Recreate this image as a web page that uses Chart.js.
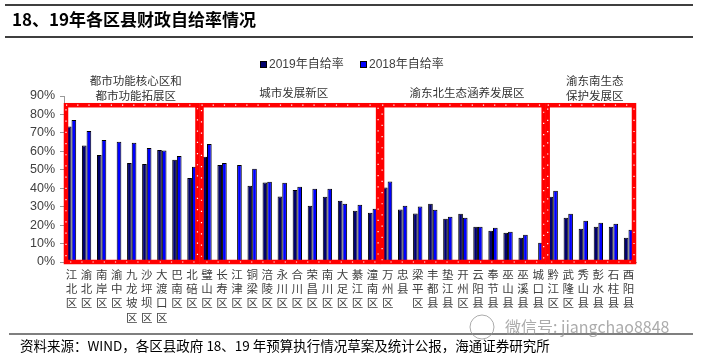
<!DOCTYPE html>
<html>
<head>
<meta charset="utf-8">
<script src="https://cdn.jsdelivr.net/npm/chart.js@4"></script>
<style>
  html, body { margin: 0; padding: 0; background: #fff; }
  #wrap { position: relative; width: 704px; height: 362px; }
</style>
</head>
<body>
<div id="wrap"><canvas id="myChart" width="704" height="362"></canvas></div>
<script>
const ctx = document.querySelector("#myChart");

const quxian = ['江北区', '渝北区', '南岸区', '渝中区', '九龙坡区', '沙坪坝区', '大渡口区', '巴南区', '北碚区',
    '璧山区', '长寿区', '江津区', '铜梁区', '涪陵区', '永川区', '合川区', '荣昌区', '南川区', '大足区', '綦江区', '潼南区',
    '万州区', '忠县', '梁平区', '丰都县', '垫江县', '开州区', '云阳县', '奉节县', '巫山县', '巫溪县', '城口县',
    '黔江区', '武隆区', '秀山县', '彭水县', '石柱县', '酉阳县'];

const ziji2019 = [73.4, 63.1, 58.0, null, 53.7, 53.2, 60.7, 55.5, 45.6,
    57.1, 52.6, null, 41.3, 43.1, 35.5, 39.1, 30.5, 35.4, 33.2, 27.8, 26.7,
    40.4, 28.5, 26.3, 31.6, 23.5, 26.1, 19.1, 17.0, 15.9, 13.2, null,
    35.4, 24.0, 18.0, 19.1, 19.1, 13.2];

const ziji2018 = [77.0, 71.0, 66.1, 65.2, 64.7, 61.8, 60.4, 57.5, 51.6,
    64.0, 53.7, 52.6, 50.5, 43.5, 42.9, 40.8, 39.7, 39.7, 31.6, 31.0, 28.9,
    43.6, 30.5, 30.1, 28.3, 24.5, 24.0, 19.1, 18.6, 16.4, 14.8, 10.5,
    38.6, 26.2, 22.4, 21.3, 20.8, 17.5];

const yTicks = [0, 10, 20, 30, 40, 50, 60, 70, 80, 90];

const quyuNombres = [['都市功能核心区和', '都市功能拓展区'], ['城市发展新区'], ['渝东北生态涵养发展区'], ['渝东南生态', '保护发展区']];
const quyuCantidad = [9, 12, 11, 6];
const quyuTop = 85;

const series = ['2019年自给率', '2018年自给率'];
const colores = ['#00006e', '#0000ff'];

const cjk = '"Noto Sans CJK SC", "Noto Sans", sans-serif';

const extras = {
    id: 'extras',
    afterDatasetsDraw(chart) {
        const c = chart.ctx;
        const x = chart.scales.x;
        const y = chart.scales.y;
        const paso = (chart.chartArea.right - chart.chartArea.left) / quxian.length;
        const top = y.getPixelForValue(quyuTop);
        const bottom = y.getPixelForValue(0);
        let inicio = 0;
        quyuCantidad.forEach((n, g) => {
            const left = x.getPixelForValue(inicio) - paso / 2 + 2;
            const right = x.getPixelForValue(inicio + n - 1) + paso / 2 - 2;
            c.save();
            c.strokeStyle = '#ff0000';
            c.lineWidth = 4.5;
            c.strokeRect(left, top, right - left, bottom - top);
            c.strokeStyle = '#ffffff';
            c.lineWidth = 1.2;
            c.setLineDash([1.2, 10]);
            c.strokeRect(left, top, right - left, bottom - top);
            c.restore();

            // nombre del grupo
            c.save();
            c.fillStyle = '#333333';
            c.font = '11.5px ' + cjk;
            c.textAlign = 'center';
            c.textBaseline = 'middle';
            const cx = (left + right) / 2 + 4;
            const lineas = quyuNombres[g];
            lineas.forEach((t, k) => {
                const yy = lineas.length === 1 ? top - 13 : top - 25 + k * 15.5;
                c.fillText(t, cx, yy);
            });
            c.restore();
            inicio += n;
        });
    },
    afterDraw(chart) {
        const c = chart.ctx;
        c.save();
        // titulo
        c.strokeStyle = '#000';
        c.lineWidth = 1.5;
        c.beginPath();
        c.moveTo(5, 5); c.lineTo(693, 5);
        c.moveTo(5, 37); c.lineTo(693, 37);
        c.stroke();
        c.fillStyle = '#000';
        c.font = 'bold 17px ' + cjk;
        c.textBaseline = 'middle';
        c.textAlign = 'left';
        c.fillText('18、19年各区县财政自给率情况', 12, 20);

        // leyenda
        const lx = [260, 360];
        c.font = '12px "Liberation Sans", ' + cjk;
        series.forEach((s, i) => {
            c.fillStyle = colores[i];
            c.fillRect(lx[i], 61, 7, 7);
            c.strokeStyle = '#000';
            c.lineWidth = 1;
            c.strokeRect(lx[i] + 0.5, 61.5, 6, 6);
            c.fillStyle = '#404040';
            c.fillText(s, lx[i] + 9, 65);
        });

        // fuente
        c.strokeStyle = '#000';
        c.lineWidth = 1.2;
        c.beginPath();
        c.moveTo(9, 334); c.lineTo(693, 334);
        c.stroke();
        c.fillStyle = '#000';
        c.font = '13.5px ' + cjk;
        c.fillText('资料来源：WIND，各区县政府 18、19 年预算执行情况草案及统计公报，海通证券研究所', 20, 346);

        // marca de agua
        c.fillStyle = 'rgba(150,150,150,0.8)';
        c.font = '16px ' + cjk;
        c.fillText('微信号: jiangchao8848', 505, 327);
        c.strokeStyle = 'rgba(150,150,150,0.8)';
        c.lineWidth = 1;
        c.beginPath();
        c.arc(482, 327, 12, 0, Math.PI * 2);
        c.stroke();
        c.restore();
    }
};

const myChart = new Chart(ctx, {
    type: 'bar',
    data: {
        labels: quxian.map(q => q.split('')),
        datasets: [{
            label: series[0],
            data: ziji2019,
            backgroundColor: colores[0],
            borderColor: '#000000',
            borderWidth: 1,
            borderSkipped: 'bottom'
        }, {
            label: series[1],
            data: ziji2018,
            backgroundColor: colores[1],
            borderColor: '#000000',
            borderWidth: 1,
            borderSkipped: 'bottom'
        }]
    },
    options: {
        responsive: false,
        animation: false,
        datasets: {
            bar: { categoryPercentage: 0.62, barPercentage: 1.0 }
        },
        layout: { padding: { left: 0, right: 68, top: 96, bottom: 0 } },
        plugins: {
            legend: { display: false },
            tooltip: { enabled: false }
        },
        scales: {
            x: {
                grid: { display: false, tickLength: 0 },
                border: { color: '#999999' },
                ticks: {
                    autoSkip: false,
                    maxRotation: 0,
                    minRotation: 0,
                    padding: 5,
                    color: '#404040',
                    font: { size: 11.5, family: cjk, lineHeight: 1.25 }
                },
                afterFit: (s) => { s.height = 100; }
            },
            y: {
                min: 0,
                max: 90,
                afterBuildTicks: (s) => { s.ticks = yTicks.map(v => ({ value: v })); },
                grid: { drawOnChartArea: false, tickLength: 4, color: '#999999' },
                border: { color: '#999999' },
                ticks: {
                    padding: 5,
                    color: '#404040',
                    font: { size: 12.5, family: '"Liberation Sans", Arial, sans-serif' },
                    callback: (v) => v + '%'
                },
                afterFit: (s) => { s.width = 64; }
            }
        }
    },
    plugins: [extras]
});
</script>
</body>
</html>
